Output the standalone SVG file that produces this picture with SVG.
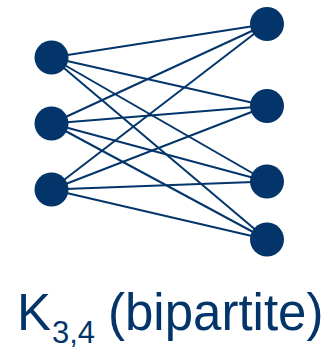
<svg xmlns="http://www.w3.org/2000/svg" width="333" height="351" viewBox="0 0 333 351">
  <style>
    .edge { stroke: #03356a; stroke-width: 2; fill: none; }
    .node { fill: #03356a; }
    .label { font-family: "Liberation Sans", Arial, sans-serif; fill: #03356a; }
  </style>
  <rect width="333" height="351" fill="#ffffff"/>
  <!-- complete bipartite edges: every left vertex joined to every right vertex -->
  <g id="edges">
    <line class="edge" x1="51.5" y1="57.5" x2="267" y2="24"/>
    <line class="edge" x1="51.5" y1="57.5" x2="267" y2="106"/>
    <line class="edge" x1="51.5" y1="57.5" x2="267" y2="181.5"/>
    <line class="edge" x1="51.5" y1="57.5" x2="267" y2="239.5"/>
    <line class="edge" x1="51.5" y1="123.5" x2="267" y2="24"/>
    <line class="edge" x1="51.5" y1="123.5" x2="267" y2="106"/>
    <line class="edge" x1="51.5" y1="123.5" x2="267" y2="181.5"/>
    <line class="edge" x1="51.5" y1="123.5" x2="267" y2="239.5"/>
    <line class="edge" x1="51.5" y1="189.5" x2="267" y2="24"/>
    <line class="edge" x1="51.5" y1="189.5" x2="267" y2="106"/>
    <line class="edge" x1="51.5" y1="189.5" x2="267" y2="181.5"/>
    <line class="edge" x1="51.5" y1="189.5" x2="267" y2="239.5"/>
  </g>
  <!-- left part -->
  <g id="u1"><circle class="node" cx="51.5" cy="57.5" r="17"/></g>
  <g id="u2"><circle class="node" cx="51.5" cy="123.5" r="17"/></g>
  <g id="u3"><circle class="node" cx="51.5" cy="189.5" r="17"/></g>
  <!-- right part -->
  <g id="v1"><circle class="node" cx="267" cy="24" r="17"/></g>
  <g id="v2"><circle class="node" cx="267" cy="106" r="17"/></g>
  <g id="v3"><circle class="node" cx="267" cy="181.5" r="17"/></g>
  <g id="v4"><circle class="node" cx="267" cy="239.5" r="17"/></g>
  <!-- caption -->
  <g id="caption">
    <text class="label" x="17" y="330" font-size="51">K</text>
    <text class="label" x="52" y="343" font-size="31">3,4</text>
    <text class="label" x="108" y="330" font-size="51">(bipartite)</text>
  </g>
</svg>
